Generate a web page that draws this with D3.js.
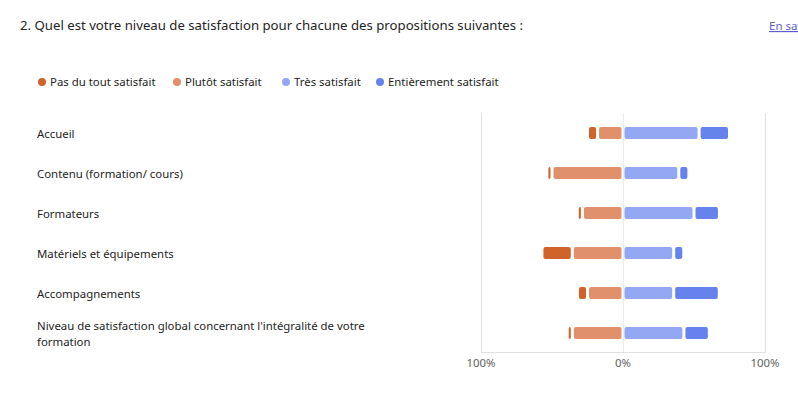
<!DOCTYPE html>
<html lang="fr">
<head>
<meta charset="utf-8">
<title>Satisfaction</title>
<style>
  html, body { margin: 0; padding: 0; background: #fff; overflow: hidden; }
  svg { display: block; font-family: "Segoe UI", "Noto Sans", "Open Sans", sans-serif; }
</style>
</head>
<body>
<svg width="798" height="397"></svg>
<script src="https://cdn.jsdelivr.net/npm/d3@7"></script>
<script>
// data (percent of 28 answers)
const categories = [
  "Accueil",
  "Contenu (formation/ cours)",
  "Formateurs",
  "Matériels et équipements",
  "Accompagnements",
  "Niveau de satisfaction global concernant l'intégralité de votre formation"
]
const pasDuTout = [7.1, 3.6, 3.6, 21.4, 7.1, 3.6]
const plutot = [17.9, 50.0, 28.6, 35.7, 25.0, 35.7]
const tres = [53.6, 39.3, 50.0, 35.7, 35.7, 42.9]
const entierement = [21.4, 7.1, 17.9, 7.1, 32.1, 17.9]
const seriesNames = ["Pas du tout satisfait", "Plutôt satisfait", "Très satisfait", "Entièrement satisfait"]
const colors = ["#d0632a", "#e0906a", "#94a7f3", "#6582ed"]
const xTicks = [-100, 0, 100]

const svg = d3.select("svg")

// title + link
svg.append("text")
  .attr("x", 20).attr("y", 30)
  .attr("font-size", 13.2).attr("fill", "#242424")
  .text("2. Quel est votre niveau de satisfaction pour chacune des propositions suivantes :")

svg.append("text")
  .attr("x", 769).attr("y", 30)
  .attr("font-size", 11.5).attr("fill", "#5b5fc7")
  .attr("text-decoration", "underline")
  .text("En savoir plus")

// legend
const legendX = [42, 177, 286, 380]
const legend = svg.append("g").selectAll("g")
  .data(seriesNames)
  .enter().append("g")
    .attr("transform", (d, i) => "translate(" + legendX[i] + ",82)")
legend.append("circle").attr("r", 4).attr("fill", (d, i) => colors[i])
legend.append("text")
  .attr("x", 8).attr("dy", "0.38em")
  .attr("font-size", 11.4).attr("fill", "#242424")
  .text(d => d)

// scales
const x = d3.scaleLinear().domain([-100, 100]).range([481, 765])
const y = d3.scaleBand().domain(categories).range([113, 353])

// grid
const grid = svg.append("g")
grid.selectAll("line.v")
  .data(xTicks)
  .enter().append("line")
    .attr("x1", d => x(d) + 0.5).attr("x2", d => x(d) + 0.5)
    .attr("y1", 113).attr("y2", 352)
    .attr("stroke", d => d === 0 ? "#ececec" : "#e0e0e0")
grid.append("line")
  .attr("x1", x(-100)).attr("x2", x(100) + 1)
  .attr("y1", 352.5).attr("y2", 352.5)
  .attr("stroke", "#e0e0e0")

// x labels
svg.append("g").selectAll("text")
  .data(xTicks)
  .enter().append("text")
    .attr("x", d => x(d)).attr("y", 367)
    .attr("text-anchor", "middle")
    .attr("font-size", 11.4).attr("fill", "#616161")
    .text(d => Math.abs(d) + "%")

// category labels (wrapped)
const labels = svg.append("g").selectAll("text")
  .data(categories)
  .enter().append("text")
    .attr("x", 37)
    .attr("font-size", 11.4).attr("fill", "#242424")
labels.each(function(d) {
  const t = d3.select(this)
  const words = d.split(" ")
  let lines = [], line = []
  const probe = t.append("tspan")
  words.forEach(w => {
    line.push(w)
    probe.text(line.join(" "))
    if (probe.node().getComputedTextLength() > 340 && line.length > 1) {
      line.pop()
      lines.push(line.join(" "))
      line = [w]
    }
  })
  lines.push(line.join(" "))
  probe.remove()
  const cy = y(d) + y.bandwidth() / 2 + 1
  lines.forEach((l, i) => {
    t.append("tspan")
      .attr("x", 37)
      .attr("y", cy + (i - (lines.length - 1) / 2) * 16)
      .attr("dy", "0.38em")
      .text(l)
  })
})

// segments
const segs = []
categories.forEach((c, i) => {
  segs.push({cat: c, s: 0, x0: -plutot[i] - pasDuTout[i], x1: -plutot[i]})
  segs.push({cat: c, s: 1, x0: -plutot[i], x1: 0})
  segs.push({cat: c, s: 2, x0: 0, x1: tres[i]})
  segs.push({cat: c, s: 3, x0: tres[i], x1: tres[i] + entierement[i]})
})
const barH = 12, gap = 1.5
svg.append("g").selectAll("rect")
  .data(segs.filter(d => d.x1 > d.x0))
  .enter().append("rect")
    .attr("x", d => x(d.x0) + gap)
    .attr("width", d => Math.max(1.5, x(d.x1) - x(d.x0) - 2 * gap))
    .attr("y", d => y(d.cat) + y.bandwidth() / 2 - barH / 2)
    .attr("height", barH)
    .attr("rx", 2)
    .attr("fill", d => colors[d.s])
</script>
</body>
</html>
